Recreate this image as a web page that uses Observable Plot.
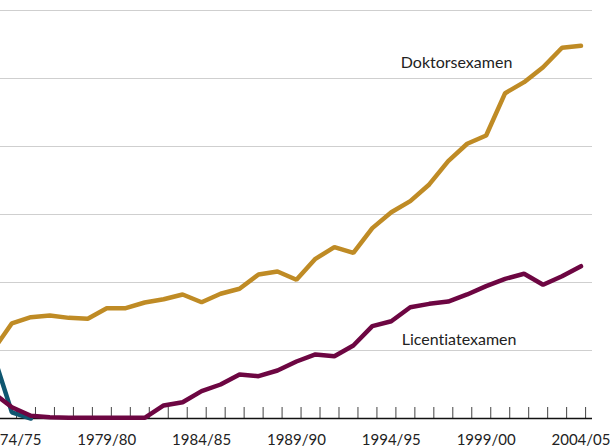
<!DOCTYPE html>
<html>
<head>
<meta charset="utf-8">
<script src="https://cdn.jsdelivr.net/npm/d3@7"></script>
<script src="https://cdn.jsdelivr.net/npm/@observablehq/plot@0.6"></script>
<style>
  html, body { margin: 0; padding: 0; background: white; overflow: hidden; }
  #chart { width: 610px; height: 447px; overflow: hidden; }
  #chart text { font-variant-ligatures: none; }
</style>
</head>
<body>
<div id="chart"></div>
<script>
const years = [1973,1974,1975,1976,1977,1978,1979,1980,1981,1982,1983,1984,1985,1986,1987,1988,1989,1990,1991,1992,1993,1994,1995,1996,1997,1998,1999,2000,2001,2002,2003,2004];
const doktorsexamen = [500,700,745,757,740,733,811,811,853,877,912,855,917,954,1059,1081,1020,1174,1260,1218,1400,1517,1598,1721,1892,2020,2081,2392,2473,2583,2726,2740];
const licentiatexamen = [190,83,20,10,5,5,5,5,5,96,120,201,250,324,311,353,419,471,458,537,679,715,818,843,860,912,973,1027,1064,983,1046,1120];
const oldYears = [1973,1974,1975];
const oldDegree = [480,45,0];
const tickYears = [1974,1979,1984,1989,1994,1999,2004];
const tickLabels = ["1974/75","1979/80","1984/85","1989/90","1994/95","1999/00","2004/05"];
const gridValues = [500,1000,1500,2000,2500,3000];
const lineLabels = [
  {name: "Doktorsexamen", year: 1994.5, value: 2575},
  {name: "Licentiatexamen", year: 1994.55, value: 544}
];

const dok = years.map((y, i) => ({year: y, value: doktorsexamen[i]}));
const lic = years.map((y, i) => ({year: y, value: licentiatexamen[i]}));
const old = oldYears.map((y, i) => ({year: y, value: oldDegree[i]}));

const chart = Plot.plot({
  width: 610,
  height: 447,
  marginTop: 0,
  marginLeft: 0,
  marginRight: 18,
  marginBottom: 29,
  x: {type: "linear", domain: [1974, 2004], range: [11.4, 580.5], label: null},
  y: {domain: [0, 3000], range: [418, 10], axis: null, label: null},
  style: {fontFamily: "Lato, 'Open Sans', sans-serif", color: "#222", background: "white"},
  marks: [
    Plot.ruleY(gridValues, {stroke: "#cfcfcf", strokeWidth: 1}),
    Plot.tickX(years, {x: d => d, insetTop: 407, stroke: "#444", strokeWidth: 1, dx: 4.6}),
    Plot.ruleY([0], {stroke: "#111", strokeWidth: 1.3}),
    Plot.axisX({ticks: tickYears, tickFormat: d => tickLabels[tickYears.indexOf(d)], tickSize: 0, tickPadding: 16, fontSize: 15, fill: "#222", label: null}),
    Plot.line(old, {x: "year", y: "value", stroke: "#0e5670", strokeWidth: 4.5, strokeLinejoin: "miter"}),
    Plot.line(lic, {x: "year", y: "value", stroke: "#6d0642", strokeWidth: 4.5, strokeLinejoin: "miter"}),
    Plot.line(dok, {x: "year", y: "value", stroke: "#bf8b25", strokeWidth: 4.5, strokeLinejoin: "miter"}),
    Plot.text(lineLabels, {x: "year", y: "value", text: "name", textAnchor: "start", lineAnchor: "bottom", fontSize: 16, fill: "#222"})
  ]
});
document.getElementById("chart").appendChild(chart);
</script>
</body>
</html>
